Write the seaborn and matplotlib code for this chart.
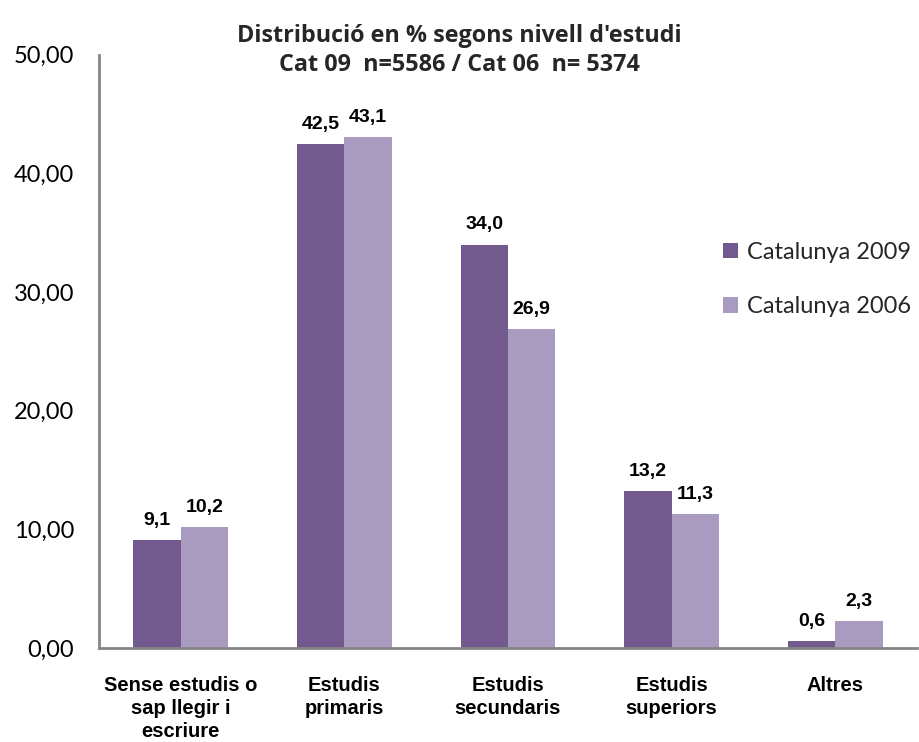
import matplotlib
matplotlib.use("Agg")
import matplotlib.pyplot as plt
from matplotlib.patches import Patch
from matplotlib.ticker import FuncFormatter
import seaborn as sns
import pandas as pd

categories = [
    "Sense estudis o\nsap llegir i\nescriure",
    "Estudis\nprimaris",
    "Estudis\nsecundaris",
    "Estudis\nsuperiors",
    "Altres",
]
series_names = ["Catalunya 2009", "Catalunya 2006"]
cat09 = [9.1, 42.5, 34.0, 13.2, 0.6]
cat06 = [10.2, 43.1, 26.9, 11.3, 2.3]
colors = ["#725A8F", "#A99BC0"]

df = pd.DataFrame({
    "cat": categories * 2,
    "serie": [series_names[0]] * 5 + [series_names[1]] * 5,
    "val": cat09 + cat06,
})

sns.set_style("white")
fig = plt.figure(figsize=(9.19, 7.42), dpi=100)
ax = fig.add_axes([0.1077, 0.1267, 0.8901, 0.7995])

sns.barplot(data=df, x="cat", y="val", hue="serie", palette=colors,
            width=0.58, gap=0, saturation=1, linewidth=0, ax=ax, legend=False)

# value labels above each bar
for cont in ax.containers:
    for bar in cont:
        h = bar.get_height()
        ax.annotate(f"{h:.1f}".replace(".", ","),
                    (bar.get_x() + bar.get_width() / 2, h),
                    xytext=(0, 8), textcoords="offset points",
                    ha="center", va="bottom", fontsize=14, color="black",
                    fontweight="bold", family="Liberation Sans")

ax.set_ylim(0, 50)
ax.set_xlim(-0.5, 4.5)
ax.set_yticks(range(0, 51, 10))
ax.yaxis.set_major_formatter(FuncFormatter(lambda v, p: f"{v:.2f}".replace(".", ",")))
ax.tick_params(axis="y", length=0, pad=18, labelsize=17, labelcolor="black")
ax.tick_params(axis="x", length=0, pad=20, labelcolor="black")
for t in ax.get_yticklabels():
    t.set_family("Lato")
for t in ax.get_xticklabels():
    t.set_family("Liberation Sans")
    t.set_fontweight("bold")
    t.set_fontsize(14.5)
    t.set_linespacing(1.28)
ax.set_xlabel("")
ax.set_ylabel("")

for s in ["top", "right"]:
    ax.spines[s].set_visible(False)
for s in ["left", "bottom"]:
    ax.spines[s].set_color("#868686")
    ax.spines[s].set_linewidth(2)

handles = [Patch(facecolor=c, edgecolor="none") for c in colors]
ax.legend(handles, series_names, loc="upper left", bbox_to_anchor=(0.737, 0.72),
          frameon=False, prop={"family": "Lato", "size": 17},
          handlelength=0.62, handleheight=0.62, handletextpad=0.4, labelspacing=1.4)

fig.text(0.5, 0.968, "Distribució en % segons nivell d'estudi\nCat 09  n=5586 / Cat 06  n= 5374",
         ha="center", va="top", fontsize=16.8, fontweight="bold", family="Open Sans",
         linespacing=1.3)

fig.savefig("out.png", dpi=100)
